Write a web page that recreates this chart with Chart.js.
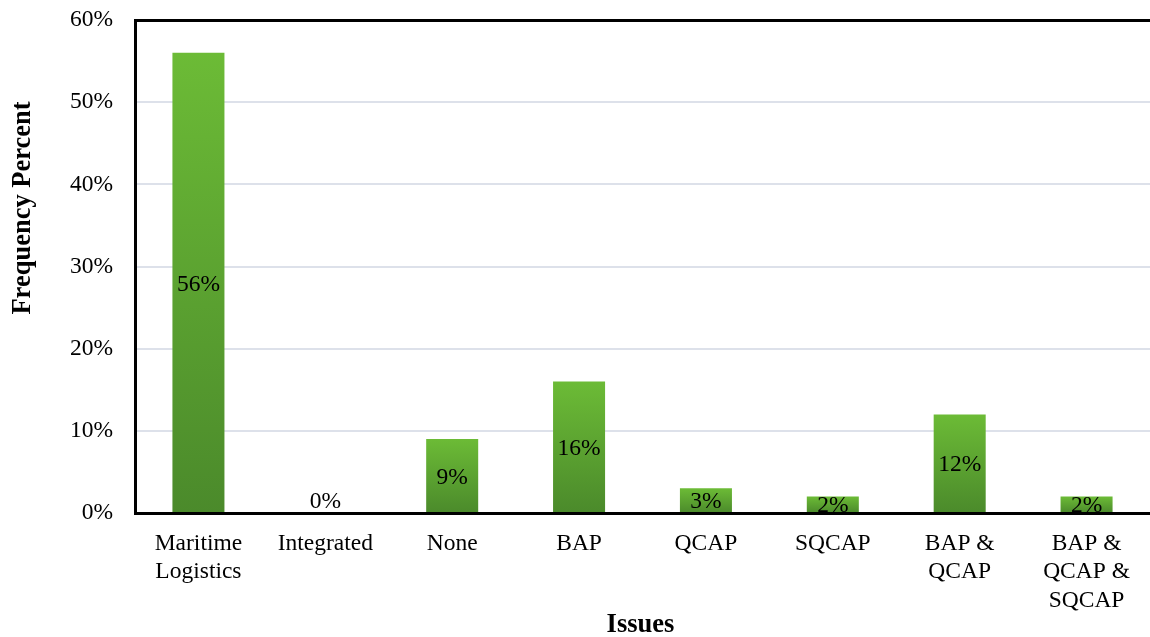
<!DOCTYPE html>
<html>
<head>
<meta charset="utf-8">
<script src="https://cdn.jsdelivr.net/npm/chart.js@4/dist/chart.umd.min.js"></script>
<style>
  html, body { margin: 0; padding: 0; background: #fff; }
  #wrap { width: 1150px; height: 637px; position: relative; }
</style>
</head>
<body>
<div id="wrap"><canvas id="c"></canvas></div>
<script>
// Categories (multi-line labels) and frequency percentages
const categories = [
  ['Maritime', 'Logistics'],
  ['Integrated'],
  ['None'],
  ['BAP'],
  ['QCAP'],
  ['SQCAP'],
  ['BAP &', 'QCAP'],
  ['BAP &', 'QCAP &', 'SQCAP']
];
const frequencyPercent = [56, 0, 9, 16, 3, 2, 12, 2];
const yTicks = [0, 10, 20, 30, 40, 50, 60];
const yTitle = 'Frequency Percent';
const xTitle = 'Issues';

const FONT = "'Liberation Serif', 'Times New Roman', serif";

// Vertical gradient per bar: lighter green on top, darker at the base
function barGradient(ctx) {
  const chart = ctx.chart;
  const y = chart.scales.y;
  if (!chart.chartArea || !y || ctx.parsed === undefined) return '#5ea332';
  const top = y.getPixelForValue(ctx.parsed.y);
  const bottom = y.getPixelForValue(0);
  if (!isFinite(top) || !isFinite(bottom) || bottom - top < 1) return '#5ea332';
  const g = chart.ctx.createLinearGradient(0, top, 0, bottom);
  g.addColorStop(0, '#6cbb36');
  g.addColorStop(1, '#4b8a2b');
  return g;
}

// Value labels centred inside each bar, plus both axis titles
const annotate = {
  id: 'annotate',
  afterDatasetsDraw(chart) {
    const c = chart.ctx;
    const meta = chart.getDatasetMeta(0);
    c.save();
    c.font = '23.5px ' + FONT;
    c.fillStyle = '#000';
    c.textAlign = 'center';
    meta.data.forEach((bar, i) => {
      const v = frequencyPercent[i];
      const p = bar.getProps(['x', 'y', 'base'], true);
      if (v === 0) {
        c.textBaseline = 'bottom';
        c.fillText(v + '%', p.x, p.base + 1);
      } else {
        c.textBaseline = 'middle';
        c.fillText(v + '%', p.x, (p.y + p.base) / 2 + 2);
      }
    });
    c.restore();

    c.save();
    c.font = 'bold 26.5px ' + FONT;
    c.fillStyle = '#000';
    c.textAlign = 'center';
    c.textBaseline = 'middle';
    const area = chart.chartArea;
    c.fillText(xTitle, (area.left + area.right) / 2 - 2, 625);
    c.translate(23, 208);
    c.rotate(-Math.PI / 2);
    c.fillText(yTitle, 0, 0);
    c.restore();
  }
};

new Chart(document.getElementById('c'), {
  type: 'bar',
  data: {
    labels: categories,
    datasets: [{
      data: frequencyPercent,
      backgroundColor: barGradient,
      borderWidth: 0,
      categoryPercentage: 1,
      barPercentage: 0.41
    }]
  },
  options: {
    responsive: true,
    maintainAspectRatio: false,
    animation: false,
    layout: { padding: { top: 20, right: 0, left: 0, bottom: 0 } },
    plugins: {
      legend: { display: false },
      tooltip: { enabled: false }
    },
    scales: {
      x: {
        grid: { display: false },
        border: { display: true, color: '#000', width: 3 },
        ticks: {
          color: '#000',
          font: { family: FONT, size: 23.5 },
          padding: 9,
          maxRotation: 0,
          autoSkip: false
        },
        afterFit(scale) {
          scale.height = 124;
          scale.paddingLeft = 0;
          scale.paddingRight = 0;
        }
      },
      y: {
        min: 0,
        max: 60,
        afterBuildTicks(scale) { scale.ticks = yTicks.map(v => ({ value: v })); },
        grid: {
          drawTicks: false,
          color: (ctx) => ctx.tick && ctx.tick.value === 60 ? '#000' : '#dde1ea',
          lineWidth: (ctx) => ctx.tick && ctx.tick.value === 60 ? 3 : 2
        },
        border: { display: true, color: '#000', width: 3 },
        ticks: {
          color: '#000',
          font: { family: FONT, size: 23.5 },
          padding: 22,
          callback: (v) => v + '%'
        },
        afterFit(scale) {
          scale.width = 135;
          scale.paddingTop = 0;
          scale.paddingBottom = 0;
        }
      }
    }
  },
  plugins: [annotate]
});
</script>
</body>
</html>
